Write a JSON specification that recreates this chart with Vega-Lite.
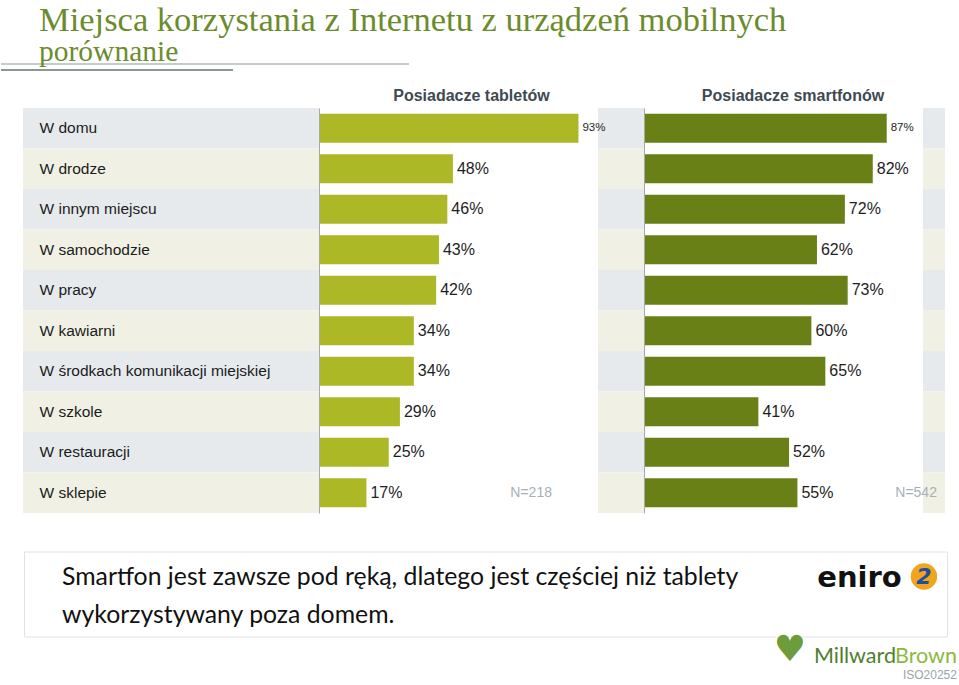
{
  "$schema": "https://vega.github.io/schema/vega-lite/v6.json",
  "autosize": {"type": "pad"},
  "padding": {"left": 0, "top": 2, "right": 0, "bottom": 0},
  "background": "white",
  "config": {"view": {"stroke": null}},
  "datasets": {
    "places": [
      {"place": "W domu", "tablet": 0.93, "smartphone": 0.87},
      {"place": "W drodze", "tablet": 0.48, "smartphone": 0.82},
      {"place": "W innym miejscu", "tablet": 0.46, "smartphone": 0.72},
      {"place": "W samochodzie", "tablet": 0.43, "smartphone": 0.62},
      {"place": "W pracy", "tablet": 0.42, "smartphone": 0.73},
      {"place": "W kawiarni", "tablet": 0.34, "smartphone": 0.60},
      {"place": "W środkach komunikacji miejskiej", "tablet": 0.34, "smartphone": 0.65},
      {"place": "W szkole", "tablet": 0.29, "smartphone": 0.41},
      {"place": "W restauracji", "tablet": 0.25, "smartphone": 0.52},
      {"place": "W sklepie", "tablet": 0.17, "smartphone": 0.55}
    ]
  },
  "spacing": 17,
  "vconcat": [
    {
      "width": 408,
      "height": 6,
      "data": {"values": [{}]},
      "title": {
        "text": "Miejsca korzystania z Internetu z urządzeń mobilnych",
        "subtitle": "porównanie",
        "anchor": "start",
        "frame": "group",
        "dx": 38,
        "offset": -4,
        "font": "Liberation Serif",
        "fontSize": 34.5,
        "fontWeight": "normal",
        "color": "#6c8c2c",
        "subtitleFont": "Liberation Serif",
        "subtitleFontSize": 29.5,
        "subtitleColor": "#6c8c2c",
        "subtitlePadding": 0
      },
      "layer": [
        {
          "mark": {"type": "rule", "color": "#8c9898", "strokeWidth": 1},
          "encoding": {
            "x": {"datum": 0, "type": "quantitative", "scale": {"domain": [0, 1], "nice": false}, "axis": null},
            "x2": {"datum": 1},
            "y": {"datum": 1, "type": "quantitative", "scale": {"domain": [0, 1], "nice": false}, "axis": null}
          }
        },
        {
          "mark": {"type": "rule", "color": "#8c9898", "strokeWidth": 2},
          "encoding": {
            "x": {"datum": 0, "type": "quantitative", "axis": null},
            "x2": {"datum": 0.5686},
            "y": {"datum": 0, "type": "quantitative", "axis": null}
          }
        }
      ]
    },
    {
      "spacing": 37.5,
      "vconcat": [
        {
          "spacing": 0,
          "hconcat": [
            {
              "width": 22,
              "height": 405,
              "data": {"name": "places"},
              "mark": {"type": "rect", "opacity": 0},
              "encoding": {
                "y": {"field": "place", "type": "nominal", "sort": null, "scale": {"paddingInner": 0, "paddingOuter": 0}, "axis": null}
              }
            },
            {
              "width": 296,
              "height": 405,
              "data": {"name": "places"},
              "mark": {"type": "rect"},
              "encoding": {
                "y": {
                  "field": "place", "type": "nominal", "sort": null,
                  "scale": {"paddingInner": 0, "paddingOuter": 0},
                  "axis": {
                    "orient": "left", "title": null, "domain": false, "ticks": false, "grid": false,
                    "labelAlign": "left", "labelPadding": -16,
                    "labelFont": "Liberation Sans",
                    "labelFontSize": 15.5, "labelColor": "#1c1c1c", "labelLimit": 300, "zindex": 1
                  }
                },
                "color": {
                  "condition": {"test": "indexof(['W domu','W innym miejscu','W pracy','W środkach komunikacji miejskiej','W restauracji'], datum.place) >= 0", "value": "#e6eaed"},
                  "value": "#f0f1e4"
                }
              }
            },
            {
              "width": 325,
              "height": 405,
              "data": {"name": "places"},
              "title": {
                "text": "Posiadacze tabletów", "anchor": "middle", "frame": "group", "dx": -10, "offset": 4,
                "font": "Liberation Sans", "fontSize": 16, "fontWeight": "bold", "color": "#3e4a52"
              },
              "encoding": {
                "y": {
                  "field": "place", "type": "nominal", "sort": null,
                  "scale": {"paddingInner": 0, "paddingOuter": 0},
                  "axis": {"title": null, "labels": false, "ticks": false, "grid": false, "domainColor": "#a8a8a8", "zindex": 1}
                }
              },
              "layer": [
                {
                  "mark": {"type": "rect"},
                  "encoding": {
                    "x": {"datum": 1, "type": "quantitative", "axis": null},
                    "x2": {"datum": 1.1649},
                    "color": {
                      "condition": {"test": "indexof(['W domu','W innym miejscu','W pracy','W środkach komunikacji miejskiej','W restauracji'], datum.place) >= 0", "value": "#e6eaed"},
                      "value": "#f0f1e4"
                    }
                  }
                },
                {
                  "mark": {"type": "bar", "height": {"band": 0.72}, "color": "#adb826"},
                  "encoding": {
                    "x": {"field": "tablet", "type": "quantitative", "scale": {"domain": [0, 1.1649], "nice": false, "zero": true}, "axis": null}
                  }
                },
                {
                  "mark": {"type": "text", "align": "left", "baseline": "middle", "dx": 4, "color": "#1e1e1e", "font": "Liberation Sans"},
                  "encoding": {
                    "x": {"field": "tablet", "type": "quantitative", "axis": null},
                    "text": {"field": "tablet", "type": "quantitative", "format": ".0%"},
                    "size": {"condition": {"test": "datum.place === 'W domu'", "value": 11.5}, "value": 16}
                  }
                },
                {
                  "data": {"values": [{"n": "N=218"}]},
                  "mark": {"type": "text", "align": "right", "baseline": "middle", "color": "#a7b0b6", "fontSize": 14, "font": "Liberation Sans"},
                  "encoding": {
                    "x": {"datum": 0.835, "type": "quantitative", "axis": null},
                    "y": {"datum": "W sklepie", "type": "nominal"},
                    "text": {"field": "n", "type": "nominal"}
                  }
                }
              ]
            },
            {
              "width": 301,
              "height": 405,
              "data": {"name": "places"},
              "title": {
                "text": "Posiadacze smartfonów", "anchor": "middle", "frame": "group", "dx": -1.5, "offset": 4,
                "font": "Liberation Sans", "fontSize": 16, "fontWeight": "bold", "color": "#3e4a52"
              },
              "encoding": {
                "y": {
                  "field": "place", "type": "nominal", "sort": null,
                  "scale": {"paddingInner": 0, "paddingOuter": 0},
                  "axis": {"title": null, "labels": false, "ticks": false, "grid": false, "domainColor": "#a8a8a8", "zindex": 1}
                }
              },
              "layer": [
                {
                  "mark": {"type": "rect"},
                  "encoding": {
                    "x": {"datum": 1, "type": "quantitative", "axis": null},
                    "x2": {"datum": 1.0789},
                    "color": {
                      "condition": {"test": "indexof(['W domu','W innym miejscu','W pracy','W środkach komunikacji miejskiej','W restauracji'], datum.place) >= 0", "value": "#e6eaed"},
                      "value": "#f0f1e4"
                    }
                  }
                },
                {
                  "mark": {"type": "bar", "height": {"band": 0.72}, "color": "#688016"},
                  "encoding": {
                    "x": {"field": "smartphone", "type": "quantitative", "scale": {"domain": [0, 1.0789], "nice": false, "zero": true}, "axis": null}
                  }
                },
                {
                  "mark": {"type": "text", "align": "left", "baseline": "middle", "dx": 4, "color": "#1e1e1e", "font": "Liberation Sans"},
                  "encoding": {
                    "x": {"field": "smartphone", "type": "quantitative", "axis": null},
                    "text": {"field": "smartphone", "type": "quantitative", "format": ".0%"},
                    "size": {"condition": {"test": "datum.place === 'W domu'", "value": 11.5}, "value": 16}
                  }
                },
                {
                  "data": {"values": [{"n": "N=542"}]},
                  "mark": {"type": "text", "align": "right", "baseline": "middle", "color": "#a7b0b6", "fontSize": 14, "font": "Liberation Sans"},
                  "encoding": {
                    "x": {"datum": 1.05, "type": "quantitative", "axis": null},
                    "y": {"datum": "W sklepie", "type": "nominal"},
                    "text": {"field": "n", "type": "nominal"}
                  }
                }
              ]
            }
          ]
        },
        {
          "spacing": 0,
          "hconcat": [
            {
              "width": 22,
              "height": 85,
              "data": {"name": "places"},
              "mark": {"type": "rect", "opacity": 0},
              "encoding": {
                "y": {"field": "place", "type": "nominal", "sort": null, "scale": {"paddingInner": 0, "paddingOuter": 0}, "axis": null}
              }
            },
            {
              "width": 923,
              "height": 85,
              "view": {"stroke": "#e2e2e2", "strokeWidth": 1},
              "layer": [
                {
                  "data": {"values": [
                    {"line": 1, "text": "Smartfon jest zawsze pod ręką, dlatego jest częściej niż tablety"},
                    {"line": 2, "text": "wykorzystywany poza domem."}
                  ]},
                  "mark": {"type": "text", "align": "left", "baseline": "middle", "font": "Lato", "fontSize": 24.8, "color": "#111111"},
                  "encoding": {
                    "x": {"datum": 0.0412, "type": "quantitative", "scale": {"domain": [0, 1], "nice": false, "zero": false}, "axis": null},
                    "y": {"field": "line", "type": "quantitative", "scale": {"domain": [0.3158, 2.5526], "reverse": true, "nice": false, "zero": false}, "axis": null},
                    "text": {"field": "text", "type": "nominal"}
                  }
                },
                {
                  "data": {"values": [{"brand": "eniro"}]},
                  "mark": {"type": "text", "align": "right", "baseline": "alphabetic", "font": "DejaVu Sans", "fontWeight": "bold", "fontSize": 29, "color": "#111111"},
                  "encoding": {
                    "x": {"datum": 0.951, "type": "quantitative", "axis": null},
                    "y": {"datum": 1.237, "type": "quantitative", "axis": null},
                    "text": {"field": "brand", "type": "nominal"}
                  }
                },
                {
                  "data": {"values": [{"brand": "eniro"}]},
                  "mark": {"type": "point", "shape": "circle", "filled": true, "size": 700, "color": "#f0a51c", "opacity": 1},
                  "encoding": {
                    "x": {"datum": 0.975, "type": "quantitative", "axis": null},
                    "y": {"datum": 0.974, "type": "quantitative", "axis": null}
                  }
                },
                {
                  "data": {"values": [{"glyph": "2"}]},
                  "mark": {"type": "text", "align": "center", "baseline": "middle", "font": "DejaVu Sans", "fontWeight": "bold", "fontStyle": "italic", "fontSize": 22, "color": "#1f4e9b"},
                  "encoding": {
                    "x": {"datum": 0.975, "type": "quantitative", "axis": null},
                    "y": {"datum": 0.974, "type": "quantitative", "axis": null},
                    "text": {"field": "glyph", "type": "nominal"}
                  }
                },
                {
                  "data": {"values": [{"glyph": "♥"}]},
                  "mark": {"type": "text", "align": "center", "baseline": "middle", "font": "DejaVu Sans", "fontSize": 36, "color": "#6d9d3a"},
                  "encoding": {
                    "x": {"datum": 0.8299, "type": "quantitative", "axis": null},
                    "y": {"datum": 2.9, "type": "quantitative", "axis": null},
                    "text": {"field": "glyph", "type": "nominal"}
                  }
                },
                {
                  "data": {"values": [{"brand": "Millward"}]},
                  "mark": {"type": "text", "align": "left", "baseline": "alphabetic", "font": "Lato", "fontSize": 21.5, "color": "#4f8030"},
                  "encoding": {
                    "x": {"datum": 0.8559, "type": "quantitative", "axis": null},
                    "y": {"datum": 3.237, "type": "quantitative", "axis": null},
                    "text": {"field": "brand", "type": "nominal"}
                  }
                },
                {
                  "data": {"values": [{"brand": "Brown"}]},
                  "mark": {"type": "text", "align": "right", "baseline": "alphabetic", "font": "Lato", "fontSize": 21.5, "color": "#8cb840"},
                  "encoding": {
                    "x": {"datum": 1.0108, "type": "quantitative", "axis": null},
                    "y": {"datum": 3.237, "type": "quantitative", "axis": null},
                    "text": {"field": "brand", "type": "nominal"}
                  }
                },
                {
                  "data": {"values": [{"brand": "ISO20252"}]},
                  "mark": {"type": "text", "align": "right", "baseline": "alphabetic", "font": "Liberation Sans", "fontSize": 12, "color": "#9aa4a8"},
                  "encoding": {
                    "x": {"datum": 1.0108, "type": "quantitative", "axis": null},
                    "y": {"datum": 3.684, "type": "quantitative", "axis": null},
                    "text": {"field": "brand", "type": "nominal"}
                  }
                }
              ]
            }
          ]
        }
      ]
    }
  ]
}
